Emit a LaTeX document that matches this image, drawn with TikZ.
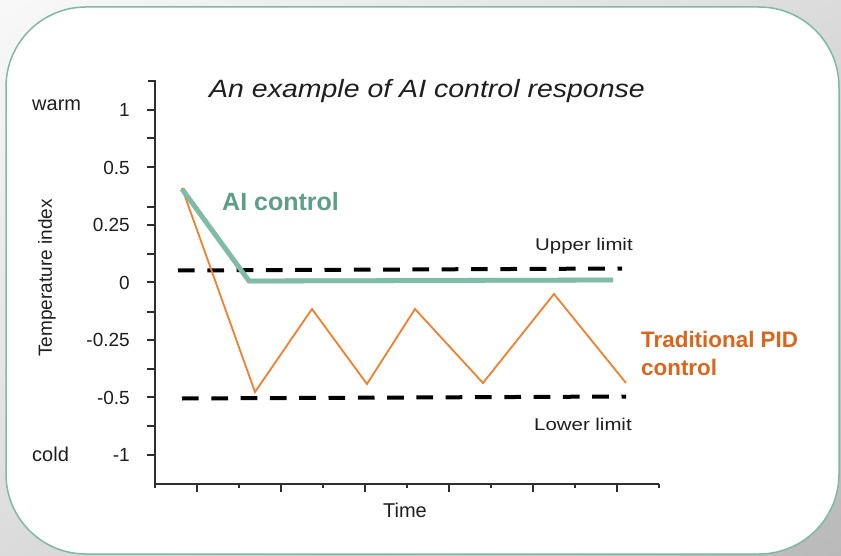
\documentclass[tikz,border=0pt]{standalone}
\usepackage{fontspec}
\setmainfont{Liberation Sans}
\usetikzlibrary{shadings}
\definecolor{tealline}{HTML}{7FBCA6}
\definecolor{tealborder}{HTML}{7DB9A3}
\definecolor{tealtext}{HTML}{5E9E86}
\definecolor{orng}{HTML}{F0802F}
\definecolor{orngtext}{HTML}{DA661E}
\definecolor{ink}{HTML}{1E1E1E}
\definecolor{axisc}{HTML}{2E2E2E}
\begin{document}
\begin{tikzpicture}[x=1pt,y=-1pt,
  lbl/.style={text=ink, inner sep=0pt},
  numlbl/.style={lbl, anchor=east, font=\fontsize{19}{22}\selectfont},
  axisline/.style={draw=axisc, line width=1.4pt},
  limitline/.style={draw=black, line width=4pt, dash pattern=on 16.7pt off 12.6pt},
  ailine/.style={draw=tealline, line width=4.8pt},
  pidline/.style={draw=orng, line width=1.8pt}]
\useasboundingbox (0,0) rectangle (841,556);
% soft shadow background
\shade[upper left=gray!5, upper right=gray!28, lower left=gray!28, lower right=gray!55] (0,0) rectangle (841,556);
\draw[tealborder, line width=1.5pt, fill=white, rounded corners=80pt] (6,7) rectangle (839,554);

% axes
\draw[axisline] (148,81) -- (155,81) -- (155,484) -- (659,484);
\foreach \y in {110,138,167,207,225,254,282,312,340,369,397,426,455}
  \draw[axisline] (147,\y) -- (155,\y);
\foreach \k in {0,...,12}{
  \pgfmathsetmacro\xx{155+42*\k}
  \pgfmathsetmacro\tl{ifthenelse(mod(\k,2)==1,8,4)}
  \draw[axisline] (\xx,484) -- (\xx,484+\tl);
}

% axis labels
\node[numlbl] (n1) at (130,110) {1};
\node[numlbl] (n05) at (130,167.5) {0.5};
\node[numlbl] (n025) at (130,225) {0.25};
\node[numlbl] (n0) at (130,282.5) {0};
\node[numlbl] (nm025) at (130,340) {-0.25};
\node[numlbl] (nm05) at (130,397.5) {-0.5};
\node[numlbl] (nm1) at (130,455) {-1};
\node[lbl, anchor=west, font=\fontsize{20}{24}\selectfont] (warm) at (32,105) {warm};
\node[lbl, anchor=west, font=\fontsize{20}{24}\selectfont] (cold) at (32,454) {cold};
\node[lbl, rotate=90, font=\fontsize{19}{22}\selectfont] (ylab) at (47,278) {Temperature index};
\node[lbl, anchor=base, font=\fontsize{20}{24}\selectfont] (xlab) at (405,517) {Time};

% title
\node[lbl, anchor=base, xscale=1.14, font=\fontsize{25}{30}\selectfont\itshape] (title) at (427,98) {An example of AI control response};

% limits
\coordinate (ul1) at (178,270.5);
\coordinate (ul2) at (622,268.5);
\coordinate (ll1) at (182,398.5);
\coordinate (ll2) at (626,396.5);
\draw[limitline] (ul1) -- (ul2);
\draw[limitline] (ll1) -- (ll2);
\node[lbl, anchor=base west, xscale=1.2, font=\fontsize{17}{20}\selectfont] (upper) at (535,251) {Upper limit};
\node[lbl, anchor=base west, xscale=1.2, font=\fontsize{17}{20}\selectfont] (lower) at (534,430) {Lower limit};

% PID response
\coordinate (p0) at (182,188);
\coordinate (p1) at (255,392);
\coordinate (p2) at (312,309);
\coordinate (p3) at (367,384);
\coordinate (p4) at (415,309);
\coordinate (p5) at (483,383);
\coordinate (p6) at (554,294);
\coordinate (p7) at (626,383);
\draw[pidline] (p0) -- (p1) -- (p2) -- (p3) -- (p4) -- (p5) -- (p6) -- (p7);

% AI response
\coordinate (a0) at (182,189);
\coordinate (a1) at (249,281);
\coordinate (a2) at (613,280);
\draw[ailine, draw=black, opacity=0.18, shift={(1.2,1.8)}] (a0) -- (a1) -- (a2);
\draw[ailine] (a0) -- (a1) -- (a2);

% series labels
\node[anchor=base west, inner sep=0pt, text=tealtext, font=\fontsize{25}{30}\selectfont\bfseries] (ailab) at (222,211) {AI control};
\node[anchor=base west, inner sep=0pt, text=orngtext, font=\fontsize{22.4}{28}\selectfont\bfseries] (pidlab1) at (641,347) {Traditional PID};
\node[anchor=base west, inner sep=0pt, text=orngtext, font=\fontsize{22.4}{28}\selectfont\bfseries] (pidlab2) at (641,375) {control};
\end{tikzpicture}
\end{document}
